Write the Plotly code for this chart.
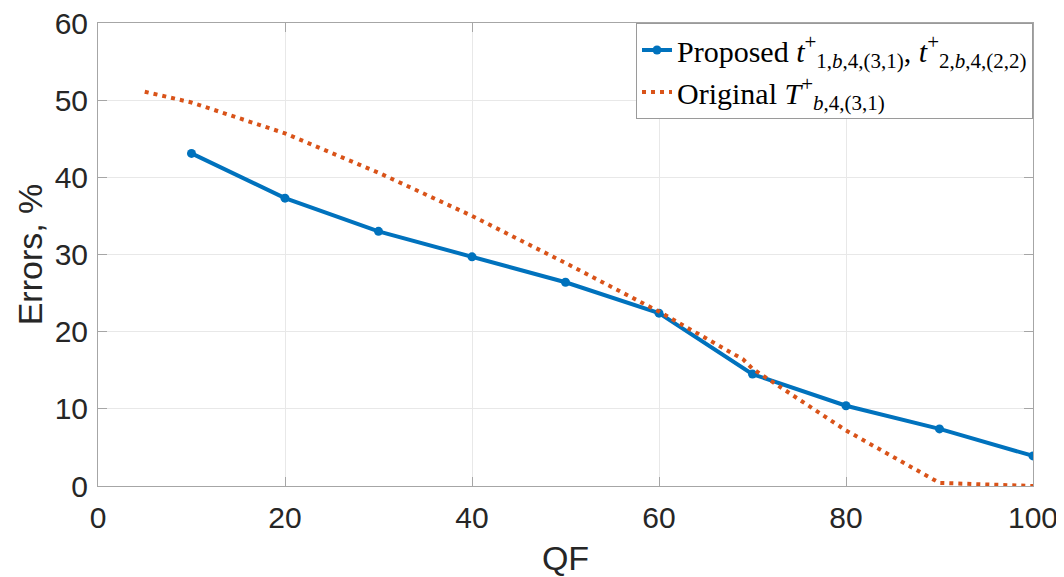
import plotly.graph_objects as go

# QF values and error percentages
qf_proposed = [10, 20, 30, 40, 50, 60, 70, 80, 90, 100]
err_proposed = [43.1, 37.3, 33.0, 29.7, 26.4, 22.4, 14.5, 10.4, 7.4, 3.9]

qf_original = [5, 10, 20, 30, 40, 50, 60, 69, 70, 80, 90, 100]
err_original = [51.1, 49.7, 45.7, 40.6, 35.0, 28.9, 22.6, 16.4, 15.2, 7.2, 0.4, 0.0]

x_ticks = [0, 20, 40, 60, 80, 100]
y_ticks = [0, 10, 20, 30, 40, 50, 60]

name_proposed = ("Proposed <i>t</i><sup>+</sup><sub>1,<i>b</i>,4,(3,1)</sub>, "
                 "<i>t</i><sup>+</sup><sub>2,<i>b</i>,4,(2,2)</sub>")
name_original = "Original <i>T</i><sup>+</sup><sub><i>b</i>,4,(3,1)</sub>"

BLUE = "#0072BD"
ORANGE = "#D95319"

fig = go.Figure()
fig.add_trace(go.Scatter(
    x=qf_proposed, y=err_proposed, mode="lines+markers", name=name_proposed,
    line=dict(color=BLUE, width=4), marker=dict(color=BLUE, size=9),
))
fig.add_trace(go.Scatter(
    x=qf_original, y=err_original, mode="lines", name=name_original,
    line=dict(color=ORANGE, width=4, dash="4px,5px"),
))

SANS = "Liberation Sans, Arial, sans-serif"
axis_common = dict(
    showline=True, linecolor="#a6a6a6", linewidth=1, mirror="ticks",
    ticks="inside", ticklen=9, tickcolor="#a6a6a6", tickwidth=1,
    showgrid=True, gridcolor="#e8e8e8", gridwidth=1, zeroline=False,
    automargin=False, ticklabeloverflow="allow",
    tickfont=dict(family=SANS, size=30, color="#262626"),
    title_font=dict(family=SANS, size=34, color="#262626"),
)

fig.update_xaxes(range=[0, 100], tickvals=x_ticks, title_text="QF",
                 title_standoff=25, ticklabelstandoff=5, **axis_common)
fig.update_yaxes(range=[0, 60], tickvals=y_ticks, title_text="Errors, %",
                 title_standoff=1, ticklabelstandoff=3, **axis_common)

# the page body adds an 8px offset, so the figure is 8px smaller than the window
fig.update_layout(
    width=1056, height=569,
    margin=dict(l=90, r=31, t=15, b=91),
    paper_bgcolor="white", plot_bgcolor="white",
    legend=dict(
        x=1, y=1, xanchor="right", yanchor="top",
        bgcolor="white", bordercolor="#9a9a9a", borderwidth=1,
        font=dict(family="Liberation Serif, Times New Roman, serif", size=30, color="black"),
        itemwidth=30, tracegroupgap=0,
    ),
)

fig.write_html("out.html")
